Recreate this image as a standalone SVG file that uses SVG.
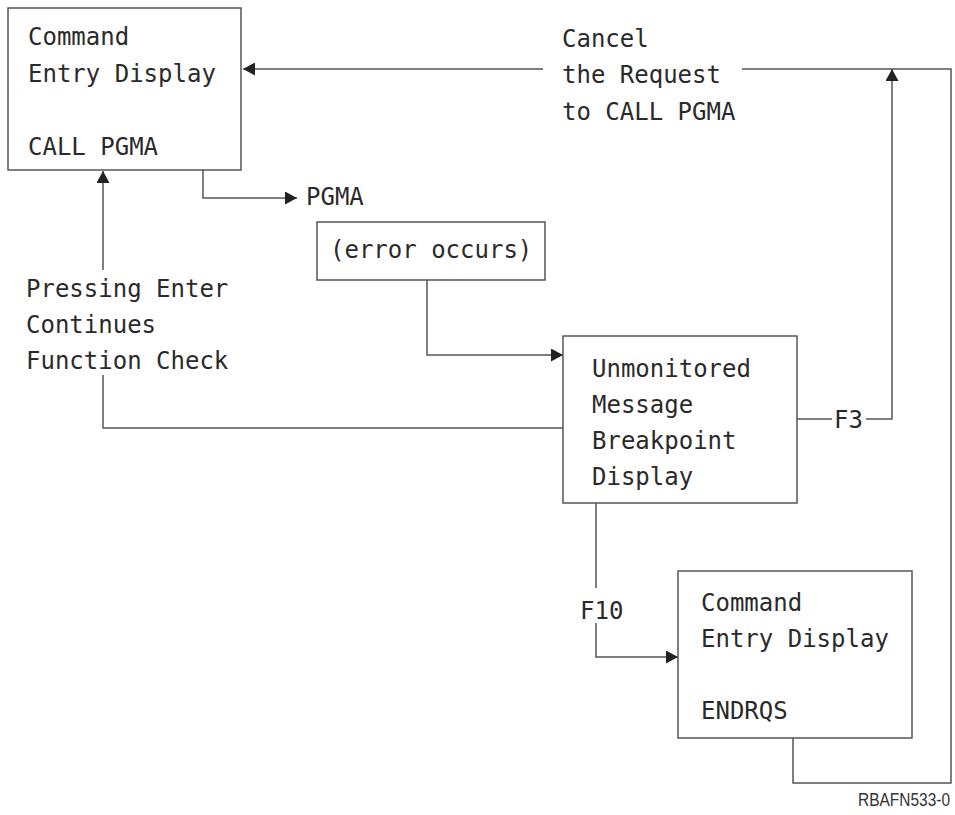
<svg xmlns="http://www.w3.org/2000/svg" width="955" height="815" viewBox="0 0 955 815">
<defs>
<style>
.box{fill:#fff;stroke:#555;stroke-width:1.5}
.ln{fill:none;stroke:#555;stroke-width:1.5}
.t{font-family:"DejaVu Sans Mono","Liberation Mono",monospace;font-size:24px;fill:#2a2a2a}
.id{font-family:"Liberation Sans",Arial,sans-serif;font-size:18px;fill:#333}
</style>
<marker id="arr" markerUnits="userSpaceOnUse" markerWidth="12" markerHeight="13" refX="12" refY="6.5" orient="auto">
<path d="M0,0 L12,6.5 L0,13 z" fill="#222"/>
</marker>
</defs>
<rect width="955" height="815" fill="#fff"/>
<g id="connectors">
<path class="ln" d="M793,738 V783 H951 V69 H742"/>
<path class="ln" d="M543,69 H243" marker-end="url(#arr)"/>
<path class="ln" d="M797,419 H832"/>
<path class="ln" d="M866,419 H892 V69" marker-end="url(#arr)"/>
<path class="ln" d="M203,170 V198 H297" marker-end="url(#arr)"/>
<path class="ln" d="M427,280 V355 H563" marker-end="url(#arr)"/>
<path class="ln" d="M563,428 H103 V375"/>
<path class="ln" d="M103,270 V171" marker-end="url(#arr)"/>
<path class="ln" d="M596,503 V588"/>
<path class="ln" d="M596,623 V657 H678" marker-end="url(#arr)"/>
<text class="t" x="562" y="47">Cancel</text>
<text class="t" x="562" y="83">the Request</text>
<text class="t" x="562" y="120">to CALL PGMA</text>
<text class="t" x="306" y="205">PGMA</text>
<text class="t" x="26" y="297">Pressing Enter</text>
<text class="t" x="26" y="333">Continues</text>
<text class="t" x="26" y="369">Function Check</text>
<text class="t" x="834" y="428">F3</text>
<text class="t" x="580" y="619">F10</text>
</g>
<g id="node-cmd1">
<rect class="box" x="8" y="8" width="233" height="162"/>
<text class="t" x="28" y="45">Command</text>
<text class="t" x="28" y="82">Entry Display</text>
<text class="t" x="28" y="155">CALL PGMA</text>
</g>
<g id="node-error">
<rect class="box" x="317" y="222" width="228" height="58"/>
<text class="t" x="330" y="258">(error occurs)</text>
</g>
<g id="node-umbd">
<rect class="box" x="563" y="336" width="234" height="167"/>
<text class="t" x="592" y="377">Unmonitored</text>
<text class="t" x="592" y="413">Message</text>
<text class="t" x="592" y="449">Breakpoint</text>
<text class="t" x="592" y="485">Display</text>
</g>
<g id="node-cmd2">
<rect class="box" x="678" y="571" width="234" height="167"/>
<text class="t" x="701" y="611">Command</text>
<text class="t" x="701" y="647">Entry Display</text>
<text class="t" x="701" y="719">ENDRQS</text>
</g>
<text class="id" transform="translate(950,806) scale(0.86,1)" text-anchor="end">RBAFN533-0</text>
</svg>
